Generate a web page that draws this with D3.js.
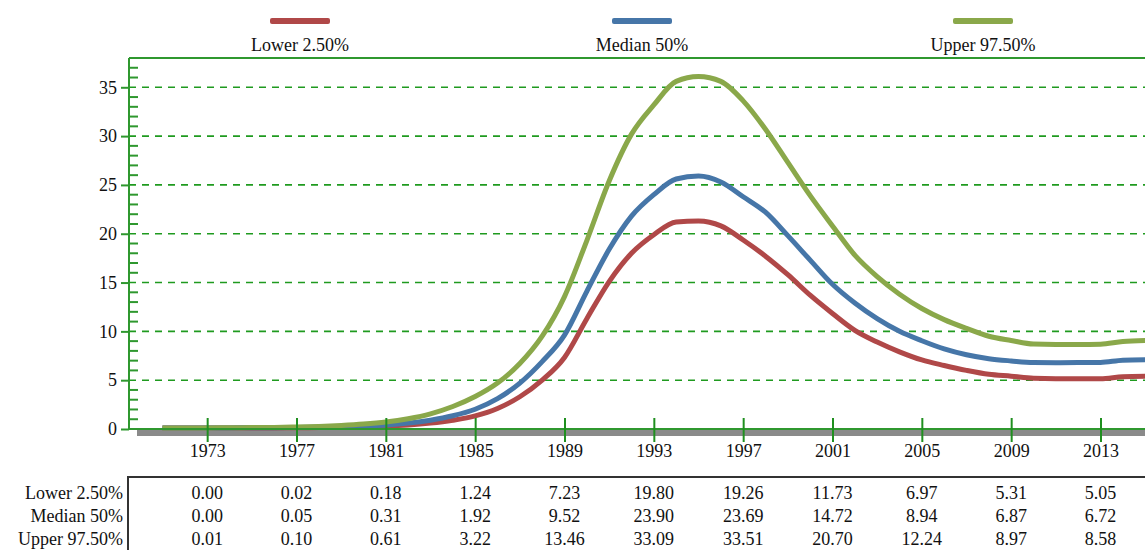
<!DOCTYPE html>
<html>
<head>
<meta charset="utf-8">
<script src="https://cdn.jsdelivr.net/npm/d3@7"></script>
<style>
	body { margin: 0; background: #fff; }
	text { font-family: "Liberation Serif", "Times New Roman", serif; fill: #111; }
</style>
</head>
<body>
<div id="chartDiv"></div>
<script>
/*
Data
*/
var years = [1971, 1972, 1973, 1974, 1975, 1976, 1977, 1978, 1979, 1980,
	1981, 1982, 1983, 1984, 1985, 1986, 1987, 1988, 1989, 1990,
	1991, 1992, 1993, 1994, 1995, 1996, 1997, 1998, 1999, 2000,
	2001, 2002, 2003, 2004, 2005, 2006, 2007, 2008, 2009, 2010,
	2011, 2012, 2013, 2014, 2015];

var lower = [0.00, 0.00, 0.00, 0.00, 0.01, 0.01, 0.02, 0.04, 0.07, 0.11,
	0.18, 0.30, 0.50, 0.80, 1.24, 2.0, 3.2, 4.9, 7.23, 11.2,
	15.0, 17.9, 19.80, 21.1, 21.2, 20.7, 19.26, 17.6, 15.7, 13.6,
	11.73, 10.0, 8.8, 7.8, 6.97, 6.4, 5.9, 5.5, 5.31, 5.1,
	5.05, 5.05, 5.05, 5.25, 5.3];

var median = [0.00, 0.00, 0.00, 0.01, 0.02, 0.03, 0.05, 0.08, 0.13, 0.20,
	0.31, 0.50, 0.80, 1.25, 1.92, 3.0, 4.6, 6.8, 9.52, 14.0,
	18.3, 21.7, 23.90, 25.5, 25.8, 25.2, 23.69, 22.1, 19.7, 17.2,
	14.72, 12.8, 11.2, 9.9, 8.94, 8.1, 7.5, 7.1, 6.87, 6.7,
	6.68, 6.70, 6.72, 6.95, 7.0];

var upper = [0.00, 0.01, 0.01, 0.02, 0.04, 0.06, 0.10, 0.16, 0.26, 0.40,
	0.61, 0.95, 1.45, 2.20, 3.22, 4.6, 6.6, 9.4, 13.46, 19.2,
	25.3, 30.1, 33.09, 35.5, 36.0, 35.5, 33.51, 30.6, 27.2, 23.8,
	20.70, 17.7, 15.5, 13.7, 12.24, 11.1, 10.2, 9.4, 8.97, 8.6,
	8.55, 8.55, 8.58, 8.85, 8.95];

// Years shown on the axis and in the table under it
var tickYears = [1973, 1977, 1981, 1985, 1989, 1993, 1997, 2001, 2005, 2009, 2013];
var tableLower  = ["0.00", "0.02", "0.18", "1.24", "7.23", "19.80", "19.26", "11.73", "6.97", "5.31", "5.05"];
var tableMedian = ["0.00", "0.05", "0.31", "1.92", "9.52", "23.90", "23.69", "14.72", "8.94", "6.87", "6.72"];
var tableUpper  = ["0.01", "0.10", "0.61", "3.22", "13.46", "33.09", "33.51", "20.70", "12.24", "8.97", "8.58"];

var seriesNames = ["Lower 2.50%", "Median 50%", "Upper 97.50%"];
var seriesColors = ["#b04848", "#4676a8", "#8aa84a"];

/*
Sizes
*/
var width = 1145, height = 550;
var plot = { left: 129, top: 58, right: 1268, bottom: 429 };

var svg = d3.select("#chartDiv").append("svg")
	.attr("width", width)
	.attr("height", height);

/*
Scales
*/
var xScale = d3.scaleLinear()
	.domain([1969.5, 2020.5])
	.range([plot.left, plot.right]);

var yScale = d3.scaleLinear()
	.domain([0, 38])
	.range([plot.bottom, plot.top]);

/*
Legend
*/
var legendX = [300, 642, 983];
var legend = svg.append("g").attr("class", "legend")
	.selectAll("g")
	.data(seriesNames)
	.enter().append("g")
		.attr("transform", function(d, i) { return "translate(" + legendX[i] + ",0)"; });

legend.append("rect")
	.attr("x", -30).attr("y", 18)
	.attr("width", 60).attr("height", 6)
	.attr("rx", 2)
	.attr("fill", function(d, i) { return seriesColors[i]; });

legend.append("text")
	.attr("y", 51)
	.attr("text-anchor", "middle")
	.style("font-size", "18px")
	.text(function(d) { return d; });

/*
Floor shadow under the x-axis
*/
svg.append("rect")
	.attr("x", 137).attr("y", 430)
	.attr("width", width).attr("height", 6)
	.attr("fill", "#8a8a8a");

/*
Grid lines (dashed)
*/
var majorY = d3.range(5, 36, 5);
svg.append("g").attr("class", "grid")
	.selectAll("line")
	.data(majorY)
	.enter().append("line")
		.attr("x1", plot.left).attr("x2", plot.right)
		.attr("y1", function(d) { return yScale(d); })
		.attr("y2", function(d) { return yScale(d); })
		.attr("stroke", "#1f9a1f")
		.attr("stroke-width", 1.6)
		.attr("stroke-dasharray", "7,6");

/*
Series lines
*/
var line = d3.line()
	.curve(d3.curveMonotoneX)
	.x(function(d) { return xScale(d.year); })
	.y(function(d) { return yScale(d.value); });

var allSeries = [lower, median, upper].map(function(vals) {
	return years.map(function(y, i) { return { year: y, value: vals[i] }; });
});

svg.append("g").attr("class", "series")
	.attr("transform", "translate(0,-1)")
	.selectAll("path")
	.data(allSeries)
	.enter().append("path")
		.attr("d", line)
		.attr("fill", "none")
		.attr("stroke", function(d, i) { return seriesColors[i]; })
		.attr("stroke-width", 5)
		.attr("stroke-linejoin", "round");

/*
Axes frame
*/
var axisColor = "#2f982f";
svg.append("line")
	.attr("x1", plot.left).attr("x2", plot.right)
	.attr("y1", plot.top).attr("y2", plot.top)
	.attr("stroke", axisColor).attr("stroke-width", 2);
svg.append("line")
	.attr("x1", plot.left).attr("x2", plot.left)
	.attr("y1", plot.top).attr("y2", plot.bottom)
	.attr("stroke", axisColor).attr("stroke-width", 2);
svg.append("line")
	.attr("x1", plot.left).attr("x2", plot.right)
	.attr("y1", plot.bottom).attr("y2", plot.bottom)
	.attr("stroke", axisColor).attr("stroke-width", 2);

/*
Y-axis: minor ticks inside, major ticks and labels outside
*/
var minorY = d3.range(1, 39).filter(function(d) { return d % 5 !== 0; });
svg.append("g").attr("class", "y minor")
	.selectAll("line")
	.data(minorY)
	.enter().append("line")
		.attr("x1", plot.left).attr("x2", plot.left + 9)
		.attr("y1", function(d) { return yScale(d); })
		.attr("y2", function(d) { return yScale(d); })
		.attr("stroke", axisColor).attr("stroke-width", 2);

var yAxis = d3.axisLeft(yScale)
	.tickValues(d3.range(0, 36, 5))
	.tickSize(8)
	.tickPadding(4);

var gYAxis = svg.append("g")
	.attr("class", "y axis")
	.attr("transform", "translate(" + plot.left + ",0)")
	.call(yAxis);
gYAxis.select(".domain").remove();
gYAxis.selectAll(".tick line").attr("stroke", axisColor).attr("stroke-width", 2);
gYAxis.selectAll(".tick text")
	.style("font-size", "18px")
	.style("font-family", "'Liberation Serif', serif")
	.attr("fill", "#111");

/*
X-axis: ticks cross the axis line
*/
var xAxis = d3.axisBottom(xScale)
	.tickValues(tickYears)
	.tickFormat(d3.format("d"))
	.tickSize(13)
	.tickPadding(2);

var gXAxis = svg.append("g")
	.attr("class", "x axis")
	.attr("transform", "translate(0," + plot.bottom + ")")
	.call(xAxis);
gXAxis.select(".domain").remove();
gXAxis.selectAll(".tick line")
	.attr("y1", -11)
	.attr("stroke", "#1f8f1f").attr("stroke-width", 2);
gXAxis.selectAll(".tick text")
	.style("font-size", "18px")
	.style("font-family", "'Liberation Serif', serif")
	.attr("fill", "#111");

/*
Data table below the chart
*/
var table = svg.append("g").attr("class", "table");
table.append("line")
	.attr("x1", 128).attr("x2", width)
	.attr("y1", 477).attr("y2", 477)
	.attr("stroke", "#333").attr("stroke-width", 2);
table.append("line")
	.attr("x1", 128).attr("x2", 128)
	.attr("y1", 476).attr("y2", height)
	.attr("stroke", "#333").attr("stroke-width", 2);

var tableRows = [tableLower, tableMedian, tableUpper];
var rowBaseline = [499, 522, 545];

tableRows.forEach(function(row, r) {
	table.append("text")
		.attr("x", 123).attr("y", rowBaseline[r])
		.attr("text-anchor", "end")
		.style("font-size", "18px")
		.text(seriesNames[r]);

	table.append("g").selectAll("text")
		.data(row)
		.enter().append("text")
			.attr("x", function(d, i) { return xScale(tickYears[i]); })
			.attr("y", rowBaseline[r])
			.attr("text-anchor", "middle")
			.style("font-size", "18px")
			.text(function(d) { return d; });
});
</script>
</body>
</html>
